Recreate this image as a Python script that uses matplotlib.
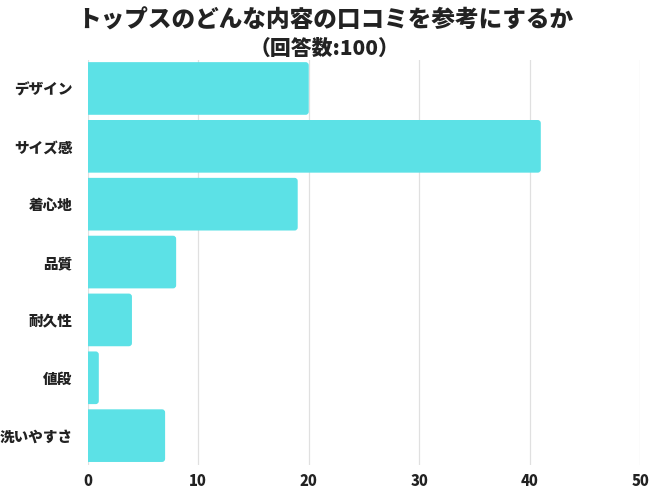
import matplotlib.pyplot as plt
from matplotlib.patches import FancyBboxPatch

plt.rcParams['font.family'] = ['Noto Sans CJK JP', 'DejaVu Sans']

# --- DATOS ---
categorias = ['デザイン', 'サイズ感', '着心地', '品質', '耐久性', '値段', '洗いやすさ']
valores = [20, 41, 19, 8, 4, 1, 7]
ticks_x = [0, 10, 20, 30, 40, 50]

color_barra = '#5ce1e6'

fig = plt.figure(figsize=(6.5, 4.88), dpi=100)
ax = fig.add_axes([0.135, 0.048, 0.85, 0.830])

pos = list(range(len(categorias)))
barras = ax.barh(pos, valores, height=0.91, color=color_barra, zorder=2)

# esquinas redondeadas solo a la derecha (la izquierda queda recortada por el eje)
aspecto = (0.85 * 650 / 50) / (0.830 * 488 / 7)
for b in barras:
    x, y = b.get_x(), b.get_y()
    w, h = b.get_width(), b.get_height()
    b.set_visible(False)
    ax.add_patch(FancyBboxPatch((x - 0.6, y), w + 0.6, h,
                                boxstyle='round,pad=0,rounding_size=0.28',
                                mutation_aspect=aspecto,
                                facecolor=color_barra, edgecolor='none', zorder=2))

ax.set_xlim(0, 50)
ax.set_ylim(len(categorias) - 0.5, -0.5)
ax.set_yticks(pos)
ax.set_yticklabels(categorias, fontsize=10.5, fontweight='heavy', color='#222222')
ax.set_xticks(ticks_x)
ax.set_xticklabels([str(t) for t in ticks_x], fontsize=10.5, fontweight='heavy', color='#222222')
ax.tick_params(axis='y', length=0, pad=11)
ax.tick_params(axis='x', length=0, pad=7)

ax.grid(axis='x', color='#e0e0e0', linewidth=0.9, zorder=0)
for s in ax.spines.values():
    s.set_visible(False)

fig.text(0.5, 0.959, 'トップスのどんな内容の口コミを参考にするか', ha='center', va='center',
         fontsize=17, fontweight='heavy', color='#222222')
fig.text(0.5, 0.900, '（回答数:100）', ha='center', va='center',
         fontsize=15, fontweight='heavy', color='#222222')

fig.savefig('out.png', dpi=100, facecolor='white')
